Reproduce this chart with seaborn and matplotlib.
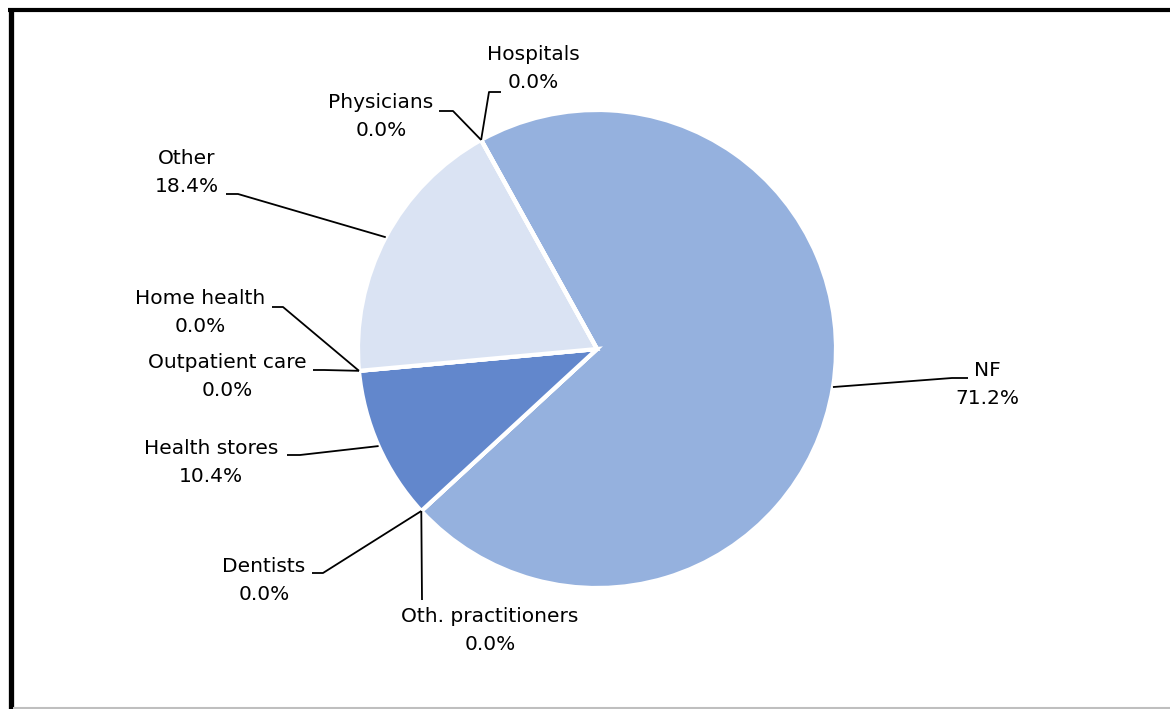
import matplotlib
matplotlib.use("Agg")
import matplotlib.pyplot as plt
from matplotlib.lines import Line2D
import numpy as np
import seaborn as sns

# Slices in clockwise order, starting from the top-left gap
labels = ["NF", "Oth. practitioners", "Dentists", "Health stores", "Outpatient care",
          "Home health", "Other", "Physicians", "Hospitals"]
shares = [71.2, 0.0, 0.0, 10.4, 0.0, 0.0, 18.4, 0.0, 0.0]
slice_colors = ["#95B1DE", "#4472C4", "#4472C4", "#6287CC", "#4472C4",
                "#4472C4", "#DAE3F3", "#4472C4", "#4472C4"]

sns.set_style("white")
plt.rcParams["font.family"] = ["DejaVu Sans"]

W, H = 1170, 709
fig = plt.figure(figsize=(W / 100, H / 100), dpi=100)
ax = fig.add_axes([0, 0, 1, 1])


def px(x, y):
    # pixel coords (from top-left) -> data coords
    return x, H - y


cx, cy = px(597, 349)
R = 239

wedges, _ = ax.pie(shares, colors=slice_colors, startangle=119, counterclock=False,
                   center=(cx, cy), radius=R,
                   wedgeprops=dict(edgecolor="white", linewidth=3.0))

# label centre and leader elbow/end (pixel coords)
layout = {
    "NF": ((987, 385), [(952, 378), (968, 378)]),
    "Oth. practitioners": ((490, 631), [(422, 600)]),
    "Dentists": ((264, 580), [(323, 573), (312, 573)]),
    "Health stores": ((211, 463), [(300, 455), (287, 455)]),
    "Outpatient care": ((227, 377), [(324, 370), (313, 370)]),
    "Home health": ((200, 313), [(283, 307), (272, 307)]),
    "Other": ((187, 172), [(238, 194), (226, 194)]),
    "Physicians": ((381, 116), [(453, 111), (439, 111)]),
    "Hospitals": ((533, 69), [(489, 92), (501, 92)]),
}

for w, lab, val in zip(wedges, labels, shares):
    mid = np.deg2rad((w.theta1 + w.theta2) / 2)
    ax_, ay_ = cx + R * np.cos(mid), cy + R * np.sin(mid)
    (tx, ty), pts = layout[lab]
    xs = [ax_] + [px(*p)[0] for p in pts]
    ys = [ay_] + [px(*p)[1] for p in pts]
    ax.plot(xs, ys, color="black", lw=1.3, solid_capstyle="butt")
    ax.text(*px(tx, ty), f"{lab}\n{val:.1f}%", ha="center", va="center",
            multialignment="center", fontsize=14.5, color="black", linespacing=1.6)

ax.set_xlim(0, W)
ax.set_ylim(0, H)
ax.set_aspect("equal")
ax.axis("off")

# frame
fig.add_artist(Line2D([10.5 / W, 10.5 / W], [0, 1 - 7.5 / H], color="black", lw=3.8,
                      solid_capstyle="butt", transform=fig.transFigure))
fig.add_artist(Line2D([8 / W, 1], [1 - 9.5 / H, 1 - 9.5 / H], color="black", lw=3.0,
                      solid_capstyle="butt", transform=fig.transFigure))
fig.add_artist(Line2D([13 / W, 1], [1 / H, 1 / H], color="#BFBFBF", lw=1.5,
                      solid_capstyle="butt", transform=fig.transFigure))

fig.savefig("out.png", dpi=100)
